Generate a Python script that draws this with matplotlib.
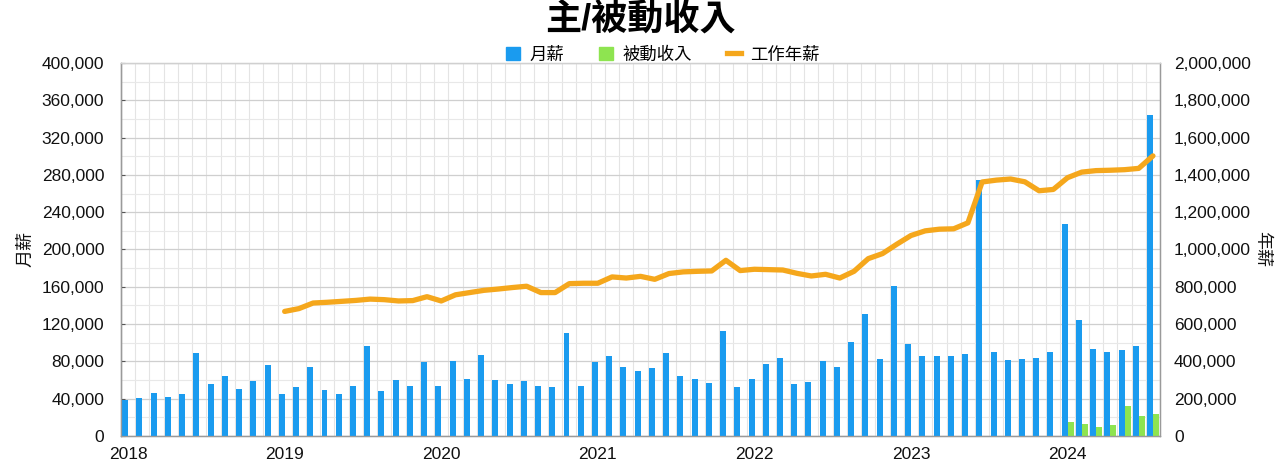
import numpy as np
import matplotlib
matplotlib.use("Agg")
import matplotlib.pyplot as plt
import matplotlib.patches as mpatches
from matplotlib.lines import Line2D
from matplotlib.ticker import FuncFormatter, MultipleLocator

plt.rcParams['font.family'] = ['Liberation Sans', 'Noto Sans CJK TC', 'DejaVu Sans']

# 73 periods, year labels every 11 periods
years = ['2018', '2019', '2020', '2021', '2022', '2023', '2024']
year_pos = [0, 11, 22, 33, 44, 55, 66]

monthly = [39000, 41000, 46500, 42000, 45500, 89000, 56000, 64500, 50000, 58800,
           76500, 45500, 52000, 74000, 49500, 45500, 53400, 97000, 48400, 60200,
           53400, 79200, 53400, 80000, 61300, 86400, 60200, 56000, 59000, 53800,
           52700, 110700, 53800, 79600, 86000, 73500, 70000, 72800, 88900, 64500,
           61000, 56300, 112900, 52300, 61300, 77400, 83900, 55700, 58400, 80900,
           73600, 100300, 130700, 83000, 160500, 98500, 86300, 86300, 86300, 88100,
           275000, 90300, 81700, 82800, 83800, 90300, 227000, 124600, 93800, 89800,
           92300, 96900, 344000]

passive = [0] * 66 + [15500, 12800, 9300, 12000, 31900, 21400, 23900]

annual = [None] * 11 + [
    668000, 683000, 713000, 717000, 722000, 727000, 734000, 731000, 724000, 726000,
    747000, 724000, 757000, 769000, 781000, 788000, 796000, 803000, 769000, 769000,
    817000, 819000, 819000, 853000, 847000, 856000, 840000, 871000, 880000, 883000,
    885000, 942000, 887000, 894000, 892000, 890000, 872000, 858000, 867000, 847000,
    883000, 951000, 978000, 1028000, 1075000, 1100000, 1109000, 1111000, 1143000, 1362000,
    1372000, 1378000, 1363000, 1315000, 1322000, 1385000, 1415000, 1423000, 1425000, 1428000,
    1435000, 1502000]

blue = '#1A9BEF'
green = '#8EE450'
orange = '#F5A71C'

x = np.arange(len(monthly))
annual_arr = np.array([np.nan if v is None else v for v in annual], dtype=float)

fig = plt.figure(figsize=(12.8, 4.72), dpi=100)
ax = fig.add_axes([0.0945, 0.0763, 0.8118, 0.7902])
ax2 = ax.twinx()

ax.bar(x - 0.2, monthly, width=0.42, color=blue, zorder=3)
ax.bar(x + 0.22, passive, width=0.42, color=green, zorder=3)
ax2.plot(x, annual_arr, color=orange, linewidth=3.8, solid_joinstyle='round',
         solid_capstyle='round', zorder=4)

ax.set_xlim(-0.5, len(monthly) - 0.5)
ax.set_ylim(0, 400000)
ax2.set_ylim(0, 2000000)

fmt = FuncFormatter(lambda v, p: f'{int(v):,}')
ax.yaxis.set_major_locator(MultipleLocator(40000))
ax.yaxis.set_minor_locator(MultipleLocator(20000))
ax.yaxis.set_major_formatter(fmt)
ax2.yaxis.set_major_locator(MultipleLocator(200000))
ax2.yaxis.set_major_formatter(fmt)

ax.set_xticks(year_pos)
ax.set_xticklabels(years)
ax.set_xticks(np.arange(-0.5, len(monthly), 1), minor=True)

ax.grid(which='major', axis='y', color='#cfcfcf', linewidth=0.9, zorder=0)
ax.grid(which='minor', axis='y', color='#e8e8e8', linewidth=0.8, zorder=0)
ax.grid(which='minor', axis='x', color='#e4e4e4', linewidth=0.8, zorder=0)
ax.set_axisbelow(True)

ax.tick_params(axis='x', which='both', length=0, labelsize=12.5, pad=8, colors='#111111')
ax.tick_params(axis='y', which='major', length=3, direction='in', labelsize=12.5,
               pad=12, colors='#555555', labelcolor='#111111')
ax.tick_params(axis='y', which='minor', length=0)
ax2.tick_params(axis='y', length=0, labelsize=12.5, pad=10, labelcolor='#111111')

for a in (ax, ax2):
    for s in a.spines.values():
        s.set_color('#9a9a9a')
        s.set_linewidth(0.9)
    a.spines['top'].set_color('#d0d0d0')
ax.spines['left'].set_color('#555555')
ax.spines['bottom'].set_color('#8a8a8a')

ax.set_ylabel('月薪', fontsize=13, labelpad=5, color='#111111')
ax2.set_ylabel('年薪', fontsize=13, rotation=270, labelpad=14, color='#111111')

fig.suptitle('主/被動收入', fontsize=26, fontweight='bold', y=0.995)

handles = [mpatches.Patch(color=blue, label='月薪'),
           mpatches.Patch(color=green, label='被動收入'),
           Line2D([0], [0], color=orange, linewidth=3.8, label='工作年薪')]
fig.legend(handles=handles, loc='center', bbox_to_anchor=(0.518, 0.885), ncol=3,
           frameon=False, fontsize=12.5, handlelength=0.8, handleheight=0.8,
           columnspacing=2.0, handletextpad=0.55)

fig.savefig('out.png', dpi=100)
